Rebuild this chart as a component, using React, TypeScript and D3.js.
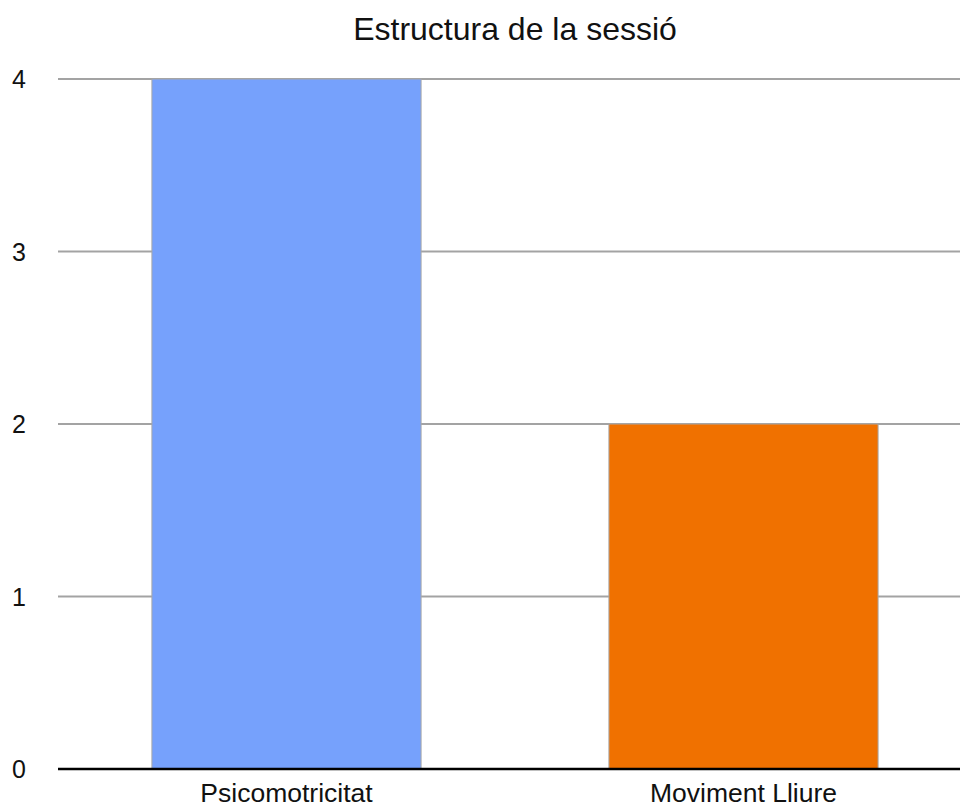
import React from 'react';
import * as d3 from 'd3';

const categories = ['Psicomotricitat', 'Moviment Lliure'];
const values = [4, 2];
const colors = ['#76a1fc', '#f07100'];
const yTicks = [0, 1, 2, 3, 4];
const title = 'Estructura de la sessió';

const W = 960;
const H = 807;
const margin = { top: 79, right: 0, bottom: 38, left: 58 };

const App: React.FC = () => {
  const x = d3.scaleBand<string>()
    .domain(categories)
    .range([margin.left, 972])
    .padding(0);

  const y = d3.scaleLinear()
    .domain([0, 4])
    .range([H - margin.bottom, margin.top]);

  const barW = x.bandwidth() * 0.589;
  const font = '"Liberation Sans", Arial, Helvetica, sans-serif';

  return (
    <svg width={W} height={H} style={{ position: 'absolute', left: 0, top: 0, background: '#fff' }}>
      <text x={(margin.left + 972) / 2} y={40} textAnchor="middle" fontFamily={font} fontSize={32} fill="#111">
        {title}
      </text>

      {/* grid */}
      {yTicks.filter(t => t > 0).map(t => (
        <line key={t} x1={margin.left} x2={W} y1={y(t)} y2={y(t)} stroke="#a3a3a3" strokeWidth={2} />
      ))}

      {/* bars */}
      {categories.map((c, i) => {
        const cx = (x(c) as number) + x.bandwidth() / 2;
        return (
          <rect
            key={c}
            x={cx - barW / 2}
            y={y(values[i])}
            width={barW}
            height={y(0) - y(values[i])}
            fill={colors[i]}
            stroke="#a8a8a8"
            strokeWidth={1}
          />
        );
      })}

      {/* baseline */}
      <line x1={margin.left} x2={W} y1={y(0)} y2={y(0)} stroke="#000" strokeWidth={2.6} />

      {/* y labels */}
      {yTicks.map(t => (
        <text key={t} x={12} y={y(t)} dy="0.36em" fontFamily={font} fontSize={25} fill="#111">
          {t}
        </text>
      ))}

      {/* x labels */}
      {categories.map(c => (
        <text
          key={c}
          x={(x(c) as number) + x.bandwidth() / 2}
          y={802}
          textAnchor="middle"
          fontFamily={font}
          fontSize={26.5}
          fill="#111"
        >
          {c}
        </text>
      ))}
    </svg>
  );
};

export default App;
